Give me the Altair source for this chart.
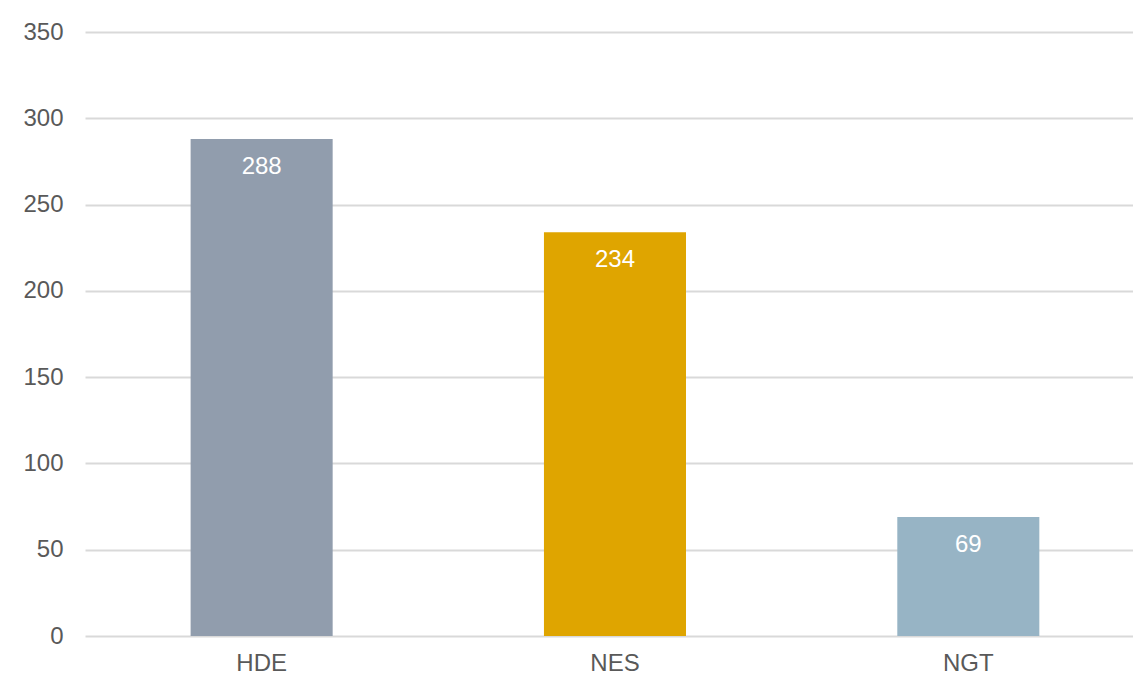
import altair as alt
import pandas as pd

categories = ["HDE", "NES", "NGT"]
values = [288, 234, 69]
colors = ["#919DAD", "#DFA500", "#97B4C5"]

df = pd.DataFrame({"cat": categories, "val": values})

x = alt.X("cat:N", sort=categories, title=None,
          scale=alt.Scale(paddingInner=0.598, paddingOuter=0.282, align=0.53),
          axis=alt.Axis(labelAngle=0, ticks=False, domain=False, grid=False, labelPadding=15,
                        labelFontSize=24, labelColor="#595959", labelFont="Liberation Sans"))
y = alt.Y("val:Q", title=None,
          scale=alt.Scale(domain=[0, 350], nice=False),
          axis=alt.Axis(values=[0, 50, 100, 150, 200, 250, 300, 350], ticks=False, domain=False,
                        labelPadding=22, labelFontSize=24, labelColor="#595959",
                        labelFont="Liberation Sans", gridColor="#D9D9D9", gridWidth=2))

bars = alt.Chart(df).mark_bar().encode(
    x=x, y=y,
    color=alt.Color("cat:N", scale=alt.Scale(domain=categories, range=colors), legend=None),
)
labels = alt.Chart(df).mark_text(baseline="middle", dy=28, color="white", fontSize=24,
                                 font="Liberation Sans").encode(
    x=alt.X("cat:N", sort=categories), y="val:Q", text="val:Q")

chart = alt.layer(bars, labels).properties(
    width=1048, height=604,
    background="white",
    autosize=alt.AutoSizeParams(type="none"),
    padding={"left": 85, "top": 32, "right": 0, "bottom": 42},
).configure_view(stroke=None)

chart.save("out.html", embed_options={"renderer": "svg", "actions": False})
